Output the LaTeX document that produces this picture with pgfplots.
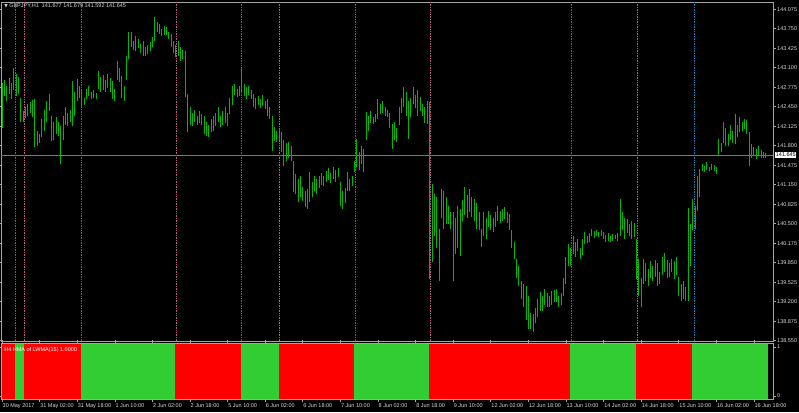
\documentclass[border=0pt]{standalone}
\usepackage{pgfplots}
\pgfplotsset{compat=1.18}
\usepackage{pgfplotstable}
\usepackage{fontspec}
\setmainfont{Liberation Sans}
\newfontfamily\symfont{DejaVu Sans}
\definecolor{bargreen}{RGB}{0,185,0}
\definecolor{indred}{RGB}{255,0,0}
\definecolor{indgreen}{RGB}{50,205,50}
\definecolor{sepblue}{RGB}{30,125,175}
\definecolor{seppink}{RGB}{185,95,125}
\definecolor{framec}{RGB}{165,165,165}
\definecolor{txt}{RGB}{215,215,215}
\definecolor{pline}{RGB}{120,120,120}

\pgfplotstableread{
i hi lo
0 142.85 142.10
1 142.90 142.62
2 142.80 142.55
3 142.93 142.66
4 142.85 142.58
5 143.10 142.72
6 143.00 142.62
7 142.95 142.66
8 142.60 142.20
9 142.38 142.19
10 142.45 142.26
11 142.50 142.30
12 142.52 142.35
13 142.56 142.28
14 142.58 141.78
15 142.05 141.80
16 142.00 141.85
17 142.25 141.95
18 142.40 142.05
19 142.55 142.20
20 142.66 142.38
21 142.30 141.88
22 142.20 141.90
23 142.28 142.00
24 142.20 141.96
25 142.12 141.49
26 142.30 141.90
27 142.44 142.15
28 142.35 142.12
29 142.40 142.20
30 142.87 142.12
31 142.70 142.30
32 142.91 142.55
33 142.80 142.60
34 142.74 142.46
35 142.60 142.48
36 142.75 142.58
37 142.79 142.62
38 142.70 142.58
39 142.72 142.60
40 142.68 142.58
41 143.04 142.75
42 142.95 142.70
43 142.98 142.72
44 142.90 142.69
45 143.00 142.76
46 142.92 142.70
47 142.87 142.58
48 142.75 142.54
49 143.21 142.90
50 143.10 142.86
51 142.96 142.60
52 142.80 142.54
53 143.30 142.90
54 143.69 143.24
55 143.69 143.45
56 143.55 143.40
57 143.62 143.37
58 143.58 143.42
59 143.50 143.35
60 143.54 143.30
61 143.45 143.29
62 143.48 143.33
63 143.52 143.38
64 143.61 143.44
65 143.94 143.55
66 143.86 143.69
67 143.82 143.66
68 143.75 143.62
69 143.80 143.65
70 143.78 143.64
71 143.70 143.58
72 143.66 143.45
73 143.55 143.35
74 143.48 143.27
75 143.54 143.30
76 143.45 143.21
77 143.40 143.24
78 143.37 142.61
79 142.66 142.02
80 142.44 142.15
81 142.35 142.12
82 142.40 142.20
83 142.30 142.14
84 142.38 142.18
85 142.32 142.15
86 142.29 142.00
87 142.20 141.96
88 142.15 141.94
89 142.25 142.02
90 142.30 142.05
91 142.35 142.12
92 142.44 142.20
93 142.30 142.11
94 142.38 142.15
95 142.44 142.18
96 142.35 142.12
97 142.60 142.32
98 142.79 142.48
99 142.82 142.65
100 142.75 142.61
101 142.80 142.63
102 143.11 142.69
103 142.82 142.62
104 142.78 142.58
105 142.80 142.64
106 142.72 142.58
107 142.66 142.45
108 142.60 142.41
109 142.62 142.48
110 142.58 142.42
111 142.64 142.46
112 142.55 142.41
113 142.58 142.30
114 142.45 142.24
115 142.29 141.71
116 142.11 141.88
117 142.05 141.86
118 142.08 141.90
119 142.02 141.70
120 141.90 141.46
121 141.85 141.55
122 141.86 141.60
123 141.80 141.54
124 141.54 141.02
125 141.32 141.00
126 141.25 140.86
127 141.30 140.95
128 141.12 140.88
129 141.05 140.78
130 141.08 140.74
131 141.36 140.86
132 141.20 140.95
133 141.30 141.05
134 141.25 141.00
135 141.30 141.10
136 141.35 141.15
137 141.30 141.12
138 141.38 141.20
139 141.42 141.22
140 141.35 141.18
141 141.44 141.25
142 141.40 141.20
143 141.42 141.28
144 141.19 140.80
145 141.05 140.74
146 141.10 140.85
147 141.36 141.05
148 141.25 141.04
149 141.30 141.12
150 141.55 141.36
151 141.91 141.45
152 141.70 141.40
153 141.80 141.50
154 141.75 141.36
155 142.36 141.90
156 142.30 142.05
157 142.37 142.18
158 142.28 142.16
159 142.32 142.20
160 142.58 142.25
161 142.50 142.32
162 142.55 142.35
163 142.44 142.30
164 142.40 142.27
165 142.35 142.10
166 142.16 141.74
167 142.19 141.90
168 142.10 141.86
169 142.45 142.15
170 142.60 142.35
171 142.77 142.45
172 142.69 142.30
173 142.55 141.91
174 142.60 142.27
175 142.77 142.50
176 142.65 142.42
177 142.72 142.29
178 142.61 142.38
179 142.50 142.30
180 142.45 142.18
181 142.55 142.16
182 142.52 139.58
183 141.16 139.86
184 141.00 140.30
185 140.95 140.10
186 140.41 139.54
187 141.08 140.60
188 141.05 140.41
189 140.95 140.50
190 140.79 140.50
191 140.70 140.41
192 140.69 139.54
193 140.60 140.00
194 140.79 140.10
195 140.75 139.96
196 140.90 140.55
197 141.12 140.65
198 140.98 140.60
199 141.08 140.70
200 140.95 140.62
201 140.91 140.55
202 140.85 140.41
203 140.70 140.40
204 140.41 140.11
205 140.69 140.30
206 140.60 140.24
207 140.71 140.45
208 140.65 140.40
209 140.60 140.37
210 140.70 140.45
211 140.79 140.55
212 140.72 140.52
213 140.75 140.55
214 140.78 140.58
215 140.70 140.52
216 140.66 140.40
217 140.40 140.10
218 140.20 139.91
219 139.91 139.60
220 139.80 139.46
221 139.54 139.25
222 139.50 139.12
223 139.46 138.90
224 139.30 138.74
225 139.02 138.75
226 139.00 138.69
227 139.10 138.85
228 139.24 138.94
229 139.36 139.05
230 139.30 139.04
231 139.41 139.15
232 139.35 139.11
233 139.30 139.12
234 139.38 139.15
235 139.40 139.20
236 139.41 139.20
237 139.30 139.12
238 139.35 139.15
239 139.60 139.29
240 139.94 139.50
241 140.16 139.80
242 140.10 139.79
243 140.29 140.00
244 140.20 139.95
245 140.25 140.05
246 140.10 139.91
247 140.25 139.98
248 140.37 140.16
249 140.30 140.18
250 140.35 140.20
251 140.41 140.30
252 140.38 140.27
253 140.40 140.29
254 140.36 140.28
255 140.40 140.30
256 140.36 140.24
257 140.32 140.20
258 140.35 140.22
259 140.30 140.19
260 140.33 140.21
261 140.32 140.24
262 140.34 140.22
263 140.91 140.30
264 140.70 140.40
265 140.60 140.24
266 140.58 140.35
267 140.50 140.30
268 140.55 140.24
269 140.52 140.28
270 140.24 139.58
271 139.91 139.30
272 139.60 139.12
273 139.91 139.50
274 139.85 139.55
275 139.75 139.46
276 139.88 139.60
277 139.80 139.55
278 139.90 139.62
279 139.85 139.46
280 139.70 139.50
281 139.95 139.65
282 140.01 139.70
283 139.90 139.60
284 139.85 139.62
285 139.92 139.70
286 139.88 139.58
287 139.95 139.65
288 139.62 139.30
289 139.50 139.21
290 139.55 139.25
291 139.45 139.21
292 140.77 139.21
293 140.50 139.80
294 140.91 140.40
295 140.80 140.41
296 141.30 140.71
297 141.41 140.95
298 141.50 141.38
299 141.46 141.36
300 141.52 141.40
301 141.45 141.38
302 141.50 141.40
303 141.48 141.37
304 141.45 141.33
305 141.91 141.62
306 141.85 141.70
307 142.19 141.85
308 142.10 141.80
309 142.00 141.79
310 142.15 141.90
311 142.05 141.85
312 142.32 141.82
313 142.15 141.95
314 142.27 142.02
315 142.20 142.05
316 142.25 142.08
317 142.22 142.00
318 142.02 141.46
319 141.82 141.60
320 141.78 141.62
321 141.75 141.58
322 141.80 141.65
323 141.72 141.60
324 141.70 141.60
325 141.68 141.59
}\bars

\newcommand{\fs}{\fontsize{5.5}{6.5}\selectfont}

\begin{document}
\begin{tikzpicture}
\useasboundingbox (0pt,0pt) rectangle (799pt,412pt);
\fill[black] (0pt,0pt) rectangle (799pt,412pt);
% main price panel
\begin{axis}[
  at={(1pt,410pt)}, anchor=north west,
  scale only axis, width=772pt, height=339pt,
  xmin=-0.43, xmax=328.1,
  ymin=138.545, ymax=144.195,
  clip=false,
  axis line style={framec, line width=0.8pt},
  xtick=\empty,
  ytick={138.55,138.875,139.2,139.525,139.85,140.175,140.5,140.825,141.15,141.475,141.8,142.125,142.45,142.775,143.1,143.425,143.75,144.075},
  yticklabels={138.550,138.875,139.200,139.525,139.850,140.175,140.500,140.825,141.150,141.475,141.800,142.125,142.450,142.775,143.100,143.425,143.750,144.075},
  yticklabel pos=right,
  tick align=outside,
  major tick length=3pt,
  every tick/.style={framec, line width=0.6pt},
  yticklabel style={font=\fs, text=txt, anchor=west, inner sep=0pt, xshift=1pt},
]
% separator lines
\addplot[sepblue, densely dotted, line width=0.7pt] coordinates {(5.8,138.545) (5.8,144.195)};
\addplot[seppink, densely dotted, line width=0.7pt] coordinates {(9.6,138.545) (9.6,144.195)};
\addplot[sepblue, densely dotted, line width=0.7pt] coordinates {(33.8,138.545) (33.8,144.195)};
\addplot[seppink, densely dotted, line width=0.7pt] coordinates {(74,138.545) (74,144.195)};
\addplot[sepblue, densely dotted, line width=0.7pt] coordinates {(102,138.545) (102,144.195)};
\addplot[seppink, densely dotted, line width=0.7pt] coordinates {(118,138.545) (118,144.195)};
\addplot[sepblue, densely dotted, line width=0.7pt] coordinates {(150.2,138.545) (150.2,144.195)};
\addplot[seppink, densely dotted, line width=0.7pt] coordinates {(182.1,138.545) (182.1,144.195)};
\addplot[sepblue, densely dotted, line width=0.7pt] coordinates {(242.1,138.545) (242.1,144.195)};
\addplot[seppink, densely dotted, line width=0.7pt] coordinates {(270.2,138.545) (270.2,144.195)};
\addplot[sepblue, densely dotted, line width=0.7pt] coordinates {(294.5,138.545) (294.5,144.195)};
% current price line
\addplot[pline, line width=0.8pt] coordinates {(-0.43,141.645) (328.1,141.645)};
% price bars (high-low)
\addplot[draw=none, mark=none,
  error bars/.cd, y dir=plus, y explicit, error mark=none,
  error bar style={draw=bargreen, solid, line width=1pt}]
  table[x=i, y=lo, y error expr=\thisrow{hi}-\thisrow{lo}] {\bars};
\node[anchor=west, fill=white, text=black, font=\fs, inner sep=0.7pt, xshift=2pt] at (axis cs:328.1,141.645) {141.645};
\node[anchor=west, text=txt, font=\fs, inner sep=0pt] at (rel axis cs:0.004,0.988) {{\symfont\fontsize{4.5}{5}\selectfont ▼}\ GBPJPY,H1\ \ 141.677 141.679 141.592 141.645};
\end{axis}
% indicator panel
\begin{axis}[
  at={(1pt,69pt)}, anchor=north west,
  scale only axis, width=772pt, height=56pt,
  xmin=-0.43, xmax=328.1,
  ymin=-0.06, ymax=1.08,
  axis line style={framec, line width=0.8pt},
  axis on top,
  xtick={0,16,32,48,64,80,96,112,128,144,160,176,192,208,224,240,256,272,288,304,320},
  xticklabels={30 May 2017,31 May 02:00,31 May 18:00,1 Jun 10:00,2 Jun 02:00,2 Jun 18:00,5 Jun 10:00,6 Jun 02:00,6 Jun 18:00,7 Jun 10:00,8 Jun 02:00,8 Jun 18:00,9 Jun 10:00,12 Jun 02:00,12 Jun 18:00,13 Jun 10:00,14 Jun 02:00,14 Jun 18:00,15 Jun 10:00,16 Jun 02:00,16 Jun 18:00},
  xticklabel style={font=\fs, text=txt, anchor=north west, inner sep=0pt, xshift=0.5pt, yshift=-1pt},
  ytick={0,1},
  yticklabels={0,1},
  yticklabel pos=right,
  yticklabel style={font=\fs, text=txt, anchor=west, inner sep=0pt, xshift=1pt},
  tick align=outside,
  major tick length=3pt,
  every tick/.style={framec, line width=0.6pt},
]
\addplot[fill=indred, draw=none] coordinates {(-0.43,-0.06) (-0.43,1.08) (5.5,1.08) (5.5,-0.06)} --cycle;
\addplot[fill=indgreen, draw=none] coordinates {(5.5,-0.06) (5.5,1.08) (9.4,1.08) (9.4,-0.06)} --cycle;
\addplot[fill=indred, draw=none] coordinates {(9.4,-0.06) (9.4,1.08) (33.6,1.08) (33.6,-0.06)} --cycle;
\addplot[fill=indgreen, draw=none] coordinates {(33.6,-0.06) (33.6,1.08) (73.6,1.08) (73.6,-0.06)} --cycle;
\addplot[fill=indred, draw=none] coordinates {(73.6,-0.06) (73.6,1.08) (101.7,1.08) (101.7,-0.06)} --cycle;
\addplot[fill=indgreen, draw=none] coordinates {(101.7,-0.06) (101.7,1.08) (117.9,1.08) (117.9,-0.06)} --cycle;
\addplot[fill=indred, draw=none] coordinates {(117.9,-0.06) (117.9,1.08) (149.8,1.08) (149.8,-0.06)} --cycle;
\addplot[fill=indgreen, draw=none] coordinates {(149.8,-0.06) (149.8,1.08) (181.7,1.08) (181.7,-0.06)} --cycle;
\addplot[fill=indred, draw=none] coordinates {(181.7,-0.06) (181.7,1.08) (241.7,1.08) (241.7,-0.06)} --cycle;
\addplot[fill=indgreen, draw=none] coordinates {(241.7,-0.06) (241.7,1.08) (269.8,1.08) (269.8,-0.06)} --cycle;
\addplot[fill=indred, draw=none] coordinates {(269.8,-0.06) (269.8,1.08) (293.6,1.08) (293.6,-0.06)} --cycle;
\addplot[fill=indgreen, draw=none] coordinates {(293.6,-0.06) (293.6,1.08) (326,1.08) (326,-0.06)} --cycle;
\node[anchor=north west, text=white, font=\fs, inner sep=0pt] at (rel axis cs:0.004,0.93) {H4 HMA of LWMA(15) 1.0000};
\end{axis}
\end{tikzpicture}
\end{document}
